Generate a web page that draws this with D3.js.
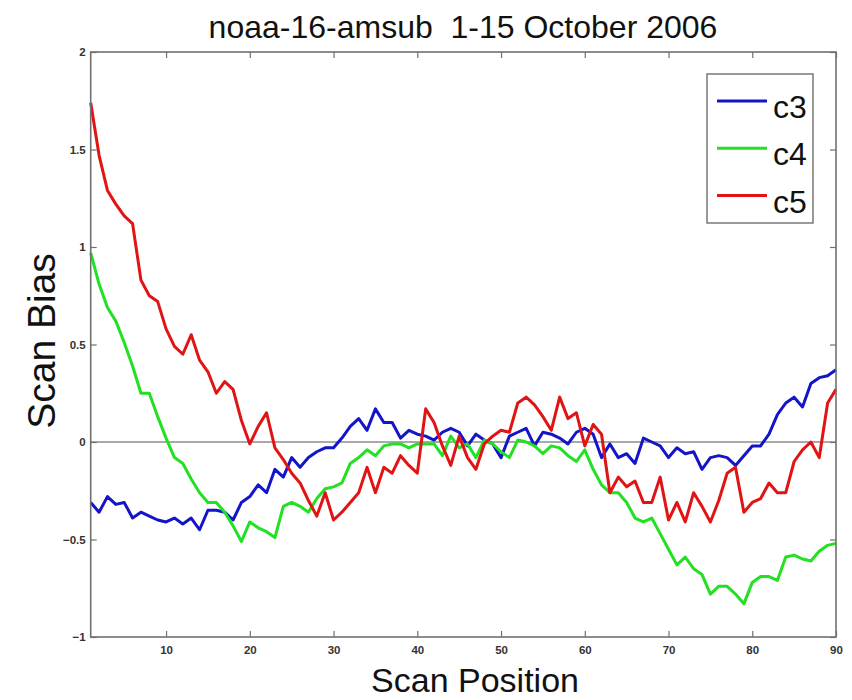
<!DOCTYPE html>
<html>
<head>
<meta charset="utf-8">
<script src="https://cdn.jsdelivr.net/npm/d3@7"></script>
<style>
  html, body { margin: 0; padding: 0; background: #fff; }
  svg { display: block; font-family: "Liberation Sans", Arial, sans-serif; }
</style>
</head>
<body>
<svg id="chart" width="852" height="700"></svg>
<script>
// Scan-position bias per AMSU-B channel
const scanPositions = d3.range(1, 91);
const c3 = [-0.31,-0.36,-0.28,-0.32,-0.31,-0.39,-0.36,-0.38,-0.40,-0.41,
            -0.39,-0.42,-0.39,-0.45,-0.35,-0.35,-0.36,-0.40,-0.31,-0.28,
            -0.22,-0.26,-0.14,-0.18,-0.08,-0.13,-0.08,-0.05,-0.03,-0.03,
             0.02, 0.08, 0.12, 0.06, 0.17, 0.10, 0.10, 0.02, 0.06, 0.04,
             0.03, 0.01, 0.05, 0.07, 0.05,-0.02, 0.04, 0.01,-0.01,-0.08,
             0.03, 0.05, 0.07,-0.02, 0.05, 0.04, 0.02,-0.01, 0.05, 0.07,
             0.04,-0.08,-0.01,-0.08,-0.06,-0.11, 0.02, 0.00,-0.02,-0.08,
            -0.03,-0.06,-0.05,-0.14,-0.08,-0.07,-0.08,-0.12,-0.07,-0.02,
            -0.02, 0.04, 0.14, 0.20, 0.23, 0.18, 0.30, 0.33, 0.34, 0.37];
const c4 = [ 0.97, 0.81, 0.69, 0.62, 0.51, 0.39, 0.25, 0.25, 0.13, 0.02,
            -0.08,-0.11,-0.19,-0.26,-0.31,-0.31,-0.36,-0.43,-0.51,-0.41,
            -0.44,-0.46,-0.49,-0.33,-0.31,-0.33,-0.36,-0.29,-0.24,-0.23,
            -0.21,-0.11,-0.08,-0.04,-0.07,-0.02,-0.01,-0.01,-0.03,-0.01,
            -0.01,-0.01,-0.07, 0.03,-0.03,-0.01,-0.08, 0.01,-0.01,-0.05,
            -0.08, 0.01, 0.00,-0.02,-0.06,-0.02,-0.03,-0.07,-0.10,-0.04,
            -0.14,-0.22,-0.26,-0.26,-0.31,-0.39,-0.41,-0.39,-0.47,-0.55,
            -0.63,-0.59,-0.65,-0.68,-0.78,-0.74,-0.74,-0.78,-0.83,-0.72,
            -0.69,-0.69,-0.71,-0.59,-0.58,-0.60,-0.61,-0.56,-0.53,-0.52];
const c5 = [ 1.74, 1.47, 1.29, 1.22, 1.16, 1.12, 0.83, 0.75, 0.72, 0.58,
             0.49, 0.45, 0.55, 0.42, 0.36, 0.25, 0.31, 0.27, 0.11,-0.01,
             0.08, 0.15,-0.03,-0.09,-0.16,-0.21,-0.30,-0.38,-0.26,-0.40,
            -0.36,-0.31,-0.26,-0.13,-0.26,-0.13,-0.16,-0.07,-0.12,-0.16,
             0.17, 0.10,-0.02,-0.12, 0.03,-0.08,-0.14,-0.01, 0.03, 0.06,
             0.05, 0.20, 0.23, 0.19, 0.13, 0.06, 0.23, 0.12, 0.15,-0.02,
             0.09, 0.04,-0.26,-0.18,-0.23,-0.20,-0.31,-0.31,-0.18,-0.40,
            -0.31,-0.41,-0.26,-0.33,-0.41,-0.30,-0.16,-0.13,-0.36,-0.31,
            -0.29,-0.21,-0.26,-0.26,-0.10,-0.04, 0.00,-0.08, 0.20, 0.27];
const seriesNames = ["c3", "c4", "c5"];
const seriesColors = ["#1414c8", "#22e022", "#e01414"];
const xTicks = [10, 20, 30, 40, 50, 60, 70, 80, 90];
const yTicks = [-1, -0.5, 0, 0.5, 1, 1.5, 2];
const titleText = "noaa-16-amsub  1-15 October 2006";
const xLabel = "Scan Position";
const yLabel = "Scan Bias";

const svg = d3.select("#chart");
const plotLeft = 90.7, plotRight = 836, plotTop = 52, plotBottom = 637;

const x = d3.scaleLinear().domain([1, 90]).range([plotLeft, plotRight]);
const y = d3.scaleLinear().domain([-1, 2]).range([plotBottom, plotTop]);

const axisColor = "#707070";
const tickLen = 6;

// zero reference line
svg.append("line")
  .attr("x1", plotLeft).attr("x2", plotRight)
  .attr("y1", y(0)).attr("y2", y(0))
  .attr("stroke", "#555").attr("stroke-width", 1.2);

// data lines
const line = d3.line().x((d, i) => x(scanPositions[i])).y(d => y(d));
const allSeries = [c3, c4, c5];
allSeries.forEach((s, k) => {
  svg.append("path")
    .datum(s)
    .attr("d", line)
    .attr("fill", "none")
    .attr("stroke", seriesColors[k])
    .attr("stroke-width", 3)
    .attr("stroke-linejoin", "round");
});

// axes: ticks point inward, labels outside
const xAxisB = d3.axisBottom(x).tickValues(xTicks).tickSizeInner(-tickLen).tickSizeOuter(0).tickPadding(9);
const xAxisT = d3.axisTop(x).tickValues(xTicks).tickSizeInner(-tickLen).tickSizeOuter(0).tickFormat("");
const yAxisL = d3.axisLeft(y).tickValues(yTicks).tickSizeInner(-tickLen).tickSizeOuter(0).tickPadding(5)
  .tickFormat(d => d3.format("")(d));
const yAxisR = d3.axisRight(y).tickValues(yTicks).tickSizeInner(-tickLen).tickSizeOuter(0).tickFormat("");

function styleAxis(g) {
  g.select(".domain").remove();
  g.selectAll(".tick line").attr("stroke", axisColor).attr("stroke-width", 1.2);
  g.selectAll(".tick text").attr("fill", "#333").attr("font-size", 11.5).attr("font-weight", "bold");
}
svg.append("g").attr("transform", `translate(0,${plotBottom})`).call(xAxisB).call(styleAxis);
svg.append("g").attr("transform", `translate(0,${plotTop})`).call(xAxisT).call(styleAxis);
svg.append("g").attr("transform", `translate(${plotLeft},0)`).call(yAxisL).call(styleAxis);
svg.append("g").attr("transform", `translate(${plotRight},0)`).call(yAxisR).call(styleAxis);

// plot box
svg.append("rect")
  .attr("x", plotLeft).attr("y", plotTop)
  .attr("width", plotRight - plotLeft).attr("height", plotBottom - plotTop)
  .attr("fill", "none").attr("stroke", axisColor).attr("stroke-width", 1.6);

// title and axis labels
svg.append("text")
  .attr("x", 463).attr("y", 38)
  .attr("text-anchor", "middle")
  .attr("font-size", 32)
  .attr("fill", "#111")
  .style("white-space", "pre")
  .text(titleText);

svg.append("text")
  .attr("x", 475).attr("y", 692)
  .attr("text-anchor", "middle")
  .attr("font-size", 34)
  .attr("fill", "#111")
  .text(xLabel);

svg.append("text")
  .attr("transform", `translate(55,341) rotate(-90)`)
  .attr("text-anchor", "middle")
  .attr("font-size", 39)
  .attr("fill", "#111")
  .text(yLabel);

// legend
const legend = svg.append("g").attr("transform", "translate(707,74)");
legend.append("rect")
  .attr("width", 106).attr("height", 149)
  .attr("fill", "#fff").attr("stroke", axisColor).attr("stroke-width", 1.4);
seriesNames.forEach((name, k) => {
  const ly = 27 + k * 47.3;
  legend.append("line")
    .attr("x1", 10).attr("x2", 60)
    .attr("y1", ly).attr("y2", ly)
    .attr("stroke", seriesColors[k]).attr("stroke-width", 3);
  legend.append("text")
    .attr("x", 66).attr("y", ly + 17)
    .attr("font-size", 32)
    .attr("fill", "#111")
    .text(name);
});
</script>
</body>
</html>
